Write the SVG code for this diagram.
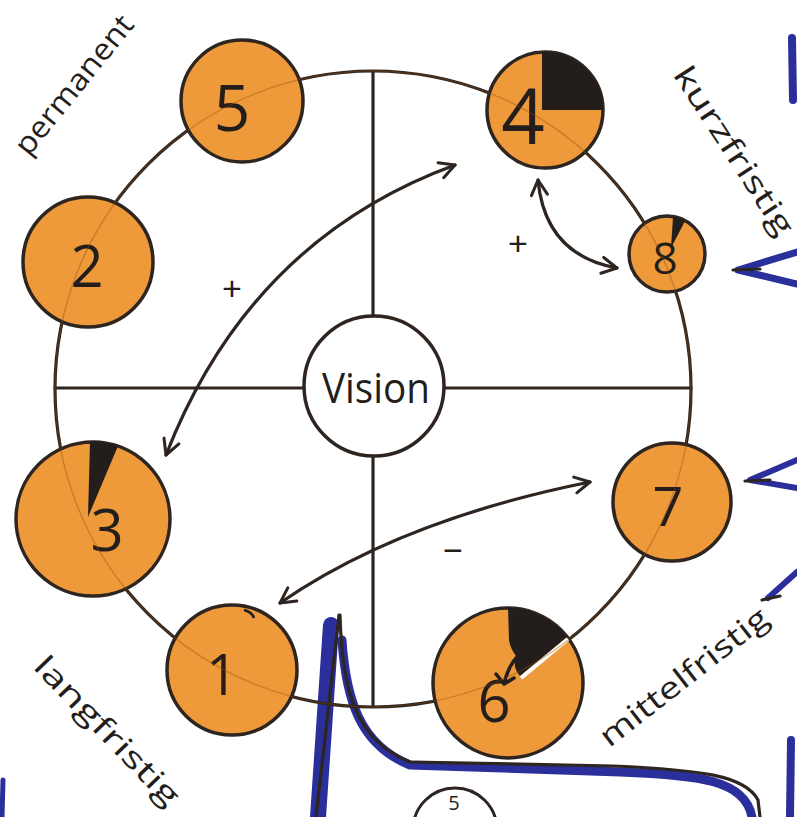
<svg xmlns="http://www.w3.org/2000/svg" width="797" height="817" viewBox="0 0 797 817">
<style>
.ln{fill:none;stroke:#2e2520;stroke-width:3.2;stroke-linecap:round;stroke-linejoin:round}
.node{fill:#ee9a3a;stroke:#2e2520;stroke-width:3.5}
.wedge{fill:#231e1b}
.num{font-family:"Open Sans","Liberation Sans",sans-serif;font-weight:400;fill:#231e1b;text-anchor:middle;dominant-baseline:central}
.lbl{font-family:"Open Sans","Liberation Sans",sans-serif;font-weight:400;fill:#231e1b;text-anchor:middle;dominant-baseline:central;font-size:30px}
.sign{font-family:"Liberation Sans",sans-serif;fill:#231e1b;text-anchor:middle;dominant-baseline:central;font-size:34px}
.blue{fill:none;stroke:#2a2f9c;stroke-linecap:round;stroke-linejoin:round}
</style>
<defs>
<marker id="ah" viewBox="0 0 20 20" refX="18" refY="10" markerWidth="20" markerHeight="20" orient="auto-start-reverse" markerUnits="userSpaceOnUse">
<path d="M3,2 L18,10 L3,18" fill="none" stroke="#2e2520" stroke-width="3" stroke-linecap="round" stroke-linejoin="round"/>
</marker>
</defs>
<rect width="797" height="817" fill="#ffffff"/>

<!-- background blue strokes -->
<g id="blue-marks">
<path class="blue" d="M331,625 L318,817" stroke-width="16"/>
<path class="blue" d="M342,640 C346,700 360,745 410,765 L620,772 C700,775 745,780 752,817" stroke-width="9"/>
<path class="ln" d="M339,615 L316,817" stroke-width="2.5"/>
<path class="ln" d="M340,615 C342,690 355,740 410,762 L613,766 C700,770 745,775 758,800 L760,817" stroke-width="2.5"/>
<path class="blue" d="M792,38 L793,100" stroke-width="8"/>
<path class="blue" d="M738,270 L797,252 M738,270 L797,284" stroke-width="7"/>
<path class="ln" d="M733,270 L760,269" stroke-width="2.5"/>
<path class="blue" d="M750,480 L797,460 M750,480 L797,488" stroke-width="6"/>
<path class="ln" d="M745,481 L770,480" stroke-width="2.5"/>
<path class="blue" d="M768,598 L797,572" stroke-width="6"/>
<path class="ln" d="M762,600 L780,596" stroke-width="2.5"/>
<path class="blue" d="M791,740 L790,817" stroke-width="8"/>
<path class="blue" d="M3,780 L2,817" stroke-width="5"/>
</g>

<!-- ring and cross -->
<g id="connectors">
<circle class="ln" cx="373" cy="389" r="318"/>
<path class="ln" d="M373,72 L373,316 M373,456 L373,706 M55,388 L303,388 M444,388 L691,388"/>
<path class="ln" d="M166,455 Q250,240 455,165" marker-start="url(#ah)" marker-end="url(#ah)"/>
<path class="ln" d="M280,603 Q400,520 590,482" marker-start="url(#ah)" marker-end="url(#ah)"/>
<path class="ln" d="M538,180 Q545,255 617,268" marker-start="url(#ah)" marker-end="url(#ah)"/>
</g>

<g id="vision">
<circle cx="374" cy="386" r="70" fill="#ffffff" stroke="#2e2520" stroke-width="3.5"/>
<text class="num" x="376" y="386" font-size="42" textLength="108" lengthAdjust="spacingAndGlyphs">Vision</text>
</g>

<g id="node5">
<circle class="node" cx="242" cy="101" r="61"/>
<text class="num" x="232" y="106" font-size="64">5</text>
</g>
<g id="node2">
<circle class="node" cx="88" cy="262" r="65"/>
<text class="num" x="87" y="264" font-size="58">2</text>
</g>
<g id="node3">
<circle class="node" cx="93" cy="519" r="77"/>
<path class="wedge" d="M88,517 L90,442 A77,77 0 0 1 118,446 Z"/>
<text class="num" x="107" y="528" font-size="58">3</text>
</g>
<g id="node1">
<circle class="node" cx="232" cy="670" r="65"/>
<path d="M244,610 Q252,612 254,618" fill="none" stroke="#231e1b" stroke-width="2.5"/>
<text class="num" x="222" y="673" font-size="56">1</text>
</g>
<g id="node6">
<circle class="node" cx="508" cy="683" r="75"/>
<path class="wedge" d="M508,608 A75,75 0 0 1 567,637 L520,676 Q512,668 516,656 Q510,648 509,640 Z"/>
<path d="M568,639 L521,678" stroke="#ffffff" stroke-width="4" fill="none"/>
<text class="num" x="494" y="699" font-size="58">6</text>
<path d="M528,648 Q510,658 504,684 M496,674 L504,684 L514,678" fill="none" stroke="#231e1b" stroke-width="3.5" stroke-linecap="round" stroke-linejoin="round"/>
</g>
<g id="node7">
<circle class="node" cx="672" cy="502" r="59"/>
<text class="num" x="668" y="505" font-size="54">7</text>
</g>
<g id="node8">
<circle class="node" cx="667" cy="254" r="38"/>
<path class="wedge" d="M671,248 L673,217 A38,38 0 0 1 685,221 Z"/>
<text class="num" x="665" y="257" font-size="44">8</text>
</g>
<g id="node4">
<circle class="node" cx="545" cy="110" r="58"/>
<path class="wedge" d="M542,110 L542,52 A58,58 0 0 1 603,110 Z"/>
<text class="num" x="523" y="114" font-size="76">4</text>
</g>

<!-- faint ring through nodes -->
<circle cx="373" cy="389" r="318" fill="none" stroke="#8a4a10" stroke-width="1.5" opacity="0.35"/>

<g id="signs">
<text class="sign" x="232" y="288">+</text>
<text class="sign" x="518" y="243">+</text>
<text class="sign" x="453" y="550">−</text>
</g>

<g id="labels">
<text class="lbl" transform="translate(73,84) rotate(-51)" textLength="170" lengthAdjust="spacingAndGlyphs">permanent</text>
<text class="lbl" transform="translate(735,150) rotate(57)" textLength="195" lengthAdjust="spacingAndGlyphs">kurzfristig</text>
<text class="lbl" transform="translate(108,730) rotate(46)" textLength="195" lengthAdjust="spacingAndGlyphs">langfristig</text>
<text class="lbl" transform="translate(683,676) rotate(-38)" textLength="205" lengthAdjust="spacingAndGlyphs">mittelfristig</text>
</g>

<g id="node-bottom">
<circle cx="455" cy="830" r="42" fill="#ffffff" stroke="#2e2520" stroke-width="3"/>
<text class="num" x="454" y="802" font-size="20">5</text>
</g>
</svg>
